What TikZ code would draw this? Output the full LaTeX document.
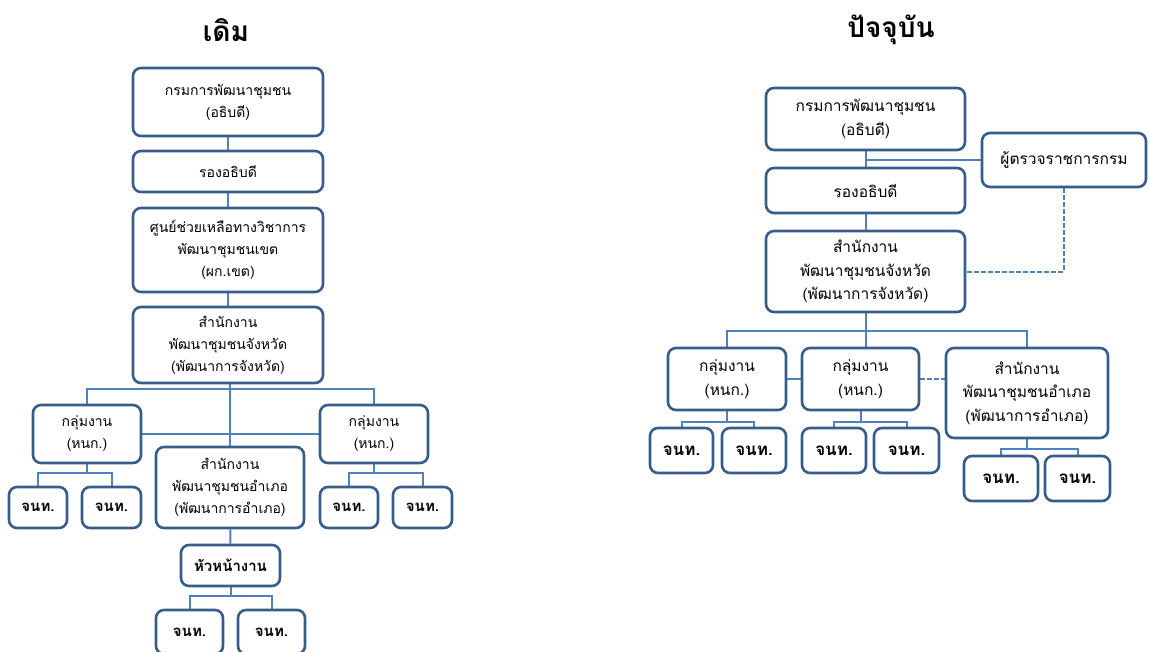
\documentclass[tikz,border=0pt]{standalone}
\usepackage{fontspec}
\newfontfamily\thaifont[Script=Thai]{Loma}
\usetikzlibrary{positioning,backgrounds}
\definecolor{boxblue}{RGB}{56,93,138}
\definecolor{linkblue}{RGB}{79,129,189}

\begin{document}
\begin{tikzpicture}[x=1pt, y=1pt,
    box/.style={draw=boxblue, line width=2.6pt, rounded corners=8pt, fill=white, align=center, inner sep=2pt, font=\thaifont\fontsize{14}{22}\selectfont},
    staff/.style={box, font=\thaifont\bfseries\fontsize{15}{22}\selectfont, minimum height=41},
    nbox/.style={box, font=\thaifont\fontsize{15.5}{23.5}\selectfont},
    nstaff/.style={box, font=\thaifont\bfseries\fontsize{17}{22}\selectfont, minimum height=45},
    link/.style={draw=linkblue, line width=2pt},
    dashlink/.style={link, dash pattern=on 5pt off 2pt},
    heading/.style={font=\thaifont\bfseries\fontsize{28}{32}\selectfont}
]
\useasboundingbox (0,0) rectangle (1149,-651);

% old structure
\node[heading] (oldtitle) at (226,-30) {เดิม};
\node[box, minimum width=190, minimum height=68] (odept) at (228,-102) {กรมการพัฒนาชุมชน\\(อธิบดี)};
\node[box, minimum width=190, minimum height=41] (odeputy) at (228,-171.5) {รองอธิบดี};
\node[box, minimum width=190, minimum height=84] (ozone) at (228,-250) {ศูนย์ช่วยเหลือทางวิชาการ\\พัฒนาชุมชนเขต\\(ผก.เขต)};
\node[box, minimum width=190, minimum height=76] (oprov) at (228,-345) {สำนักงาน\\พัฒนาชุมชนจังหวัด\\(พัฒนาการจังหวัด)};
\node[box, minimum width=108, minimum height=58] (ogrpL) at (87,-434) {กลุ่มงาน\\(หนก.)};
\node[box, minimum width=108, minimum height=58] (ogrpR) at (374,-434) {กลุ่มงาน\\(หนก.)};
\node[box, minimum width=148, minimum height=81] (odist) at (230,-487.5) {สำนักงาน\\พัฒนาชุมชนอำเภอ\\(พัฒนาการอำเภอ)};
\node[staff, minimum width=58] (oj1) at (38,-507.5) {จนท.};
\node[staff, minimum width=59] (oj2) at (111.5,-507.5) {จนท.};
\node[staff, minimum width=58] (oj3) at (349,-507.5) {จนท.};
\node[staff, minimum width=59] (oj4) at (422.5,-507.5) {จนท.};
\node[staff, minimum width=99] (ohead) at (230.5,-565.5) {หัวหน้างาน};
\node[staff, minimum width=67, minimum height=44] (oj5) at (189.5,-632) {จนท.};
\node[staff, minimum width=67, minimum height=44] (oj6) at (271.5,-632) {จนท.};

% new structure
\node[heading] (newtitle) at (891,-30) {ปัจจุบัน};
\node[nbox, minimum width=199, minimum height=62] (ndept) at (865.5,-119) {กรมการพัฒนาชุมชน\\(อธิบดี)};
\node[nbox, minimum width=164, minimum height=54] (ninsp) at (1064,-160) {ผู้ตรวจราชการกรม};
\node[nbox, minimum width=199, minimum height=45] (ndeputy) at (865.5,-190.5) {รองอธิบดี};
\node[nbox, minimum width=199, minimum height=81] (nprov) at (865.5,-271.5) {สำนักงาน\\พัฒนาชุมชนจังหวัด\\(พัฒนาการจังหวัด)};
\node[nbox, minimum width=118, minimum height=62] (ngrpA) at (727,-379) {กลุ่มงาน\\(หนก.)};
\node[nbox, minimum width=117, minimum height=62] (ngrpB) at (860.5,-379) {กลุ่มงาน\\(หนก.)};
\node[nbox, minimum width=162, minimum height=90] (ndist) at (1027,-393) {สำนักงาน\\พัฒนาชุมชนอำเภอ\\(พัฒนาการอำเภอ)};
\node[nstaff, minimum width=63] (nj1) at (681.5,-450.5) {จนท.};
\node[nstaff, minimum width=64] (nj2) at (754,-450.5) {จนท.};
\node[nstaff, minimum width=64] (nj3) at (834,-450.5) {จนท.};
\node[nstaff, minimum width=65] (nj4) at (906.5,-450.5) {จนท.};
\node[nstaff, minimum width=74] (nj5) at (1001,-478.5) {จนท.};
\node[nstaff, minimum width=65] (nj6) at (1077.5,-478.5) {จนท.};

\begin{scope}[on background layer]
% old links
\draw[link] (odept) -- (odeputy);
\draw[link] (odeputy) -- (ozone);
\draw[link] (ozone) -- (oprov);
\draw[link] (oprov.south -| odist.north) -- (odist.north);
\draw[link] (ogrpL.north) -- ++(0,15) -| (ogrpR.north);
\draw[link] (ogrpL.east) -- (ogrpR.west);
\draw[link] (ogrpL.south) -- ++(0,-9) -| (oj1.north);
\draw[link] (ogrpL.south) -- ++(0,-9) -| (oj2.north);
\draw[link] (ogrpR.south) -- ++(0,-9) -| (oj3.north);
\draw[link] (ogrpR.south) -- ++(0,-9) -| (oj4.north);
\draw[link] (odist) -- (ohead);
\draw[link] (ohead.south) -- ++(0,-9) -| (oj5.north);
\draw[link] (ohead.south) -- ++(0,-9) -| (oj6.north);
% new links
\draw[link] (ndept) -- (ndeputy);
\draw[link] (ninsp.west -| ndept.south) -- (ninsp.west);
\draw[link] (ndeputy) -- (nprov);
\draw[dashlink] (ninsp.south) |- (nprov.east);
\draw[link] (nprov.south) -- (nprov.south |- ngrpB.north);
\draw[link] (ngrpA.north) -- ++(0,16) -| (ndist.north);
\draw[link] (ngrpA.east) -- (ngrpB.west);
\draw[dashlink] (ngrpB.east) -- (ngrpB.east -| ndist.west);
\draw[link] (ngrpA.south) -- ++(0,-11) -| (nj1.north);
\draw[link] (ngrpA.south) -- ++(0,-11) -| (nj2.north);
\draw[link] (ngrpB.south) -- ++(0,-11) -| (nj3.north);
\draw[link] (ngrpB.south) -- ++(0,-11) -| (nj4.north);
\draw[link] (ndist.south) -- ++(0,-10) -| (nj5.north);
\draw[link] (ndist.south) -- ++(0,-10) -| (nj6.north);
\end{scope}
\end{tikzpicture}
\end{document}
